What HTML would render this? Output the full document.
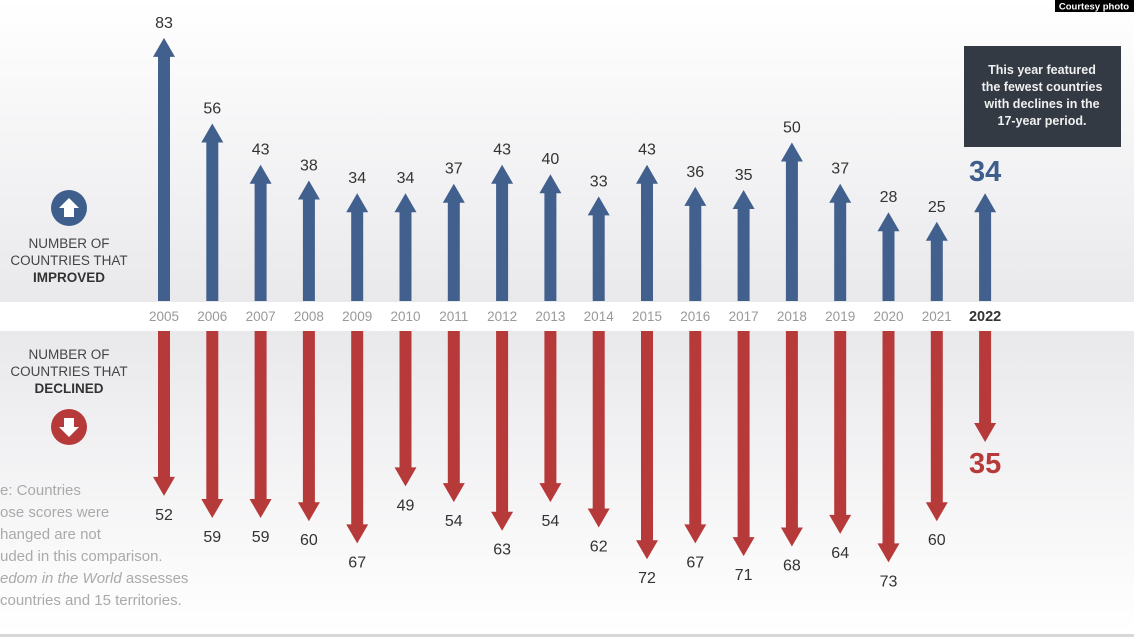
<!DOCTYPE html>
<html><head><meta charset="utf-8"><style>
body{margin:0;width:1134px;height:637px;overflow:hidden;font-family:"Liberation Sans",sans-serif}
</style></head><body>
<svg width="1134" height="637" viewBox="0 0 1134 637" xmlns="http://www.w3.org/2000/svg" font-family="Liberation Sans, sans-serif">
<defs>
<linearGradient id="gt" x1="0" y1="0" x2="0" y2="1"><stop offset="0" stop-color="#ffffff"/><stop offset="1" stop-color="#e9e9ec"/></linearGradient>
<linearGradient id="gb" x1="0" y1="0" x2="0" y2="1"><stop offset="0" stop-color="#e9e9ec"/><stop offset="1" stop-color="#ffffff"/></linearGradient>
</defs>
<rect width="1134" height="302" fill="url(#gt)"/>
<rect y="302" width="1134" height="29" fill="#fff"/>
<rect y="331" width="1134" height="303" fill="url(#gb)"/>
<rect y="634" width="1134" height="3" fill="#d8d8d8"/>
<rect x="1055" y="0" width="79" height="12" fill="#000"/>
<text x="1094" y="9.5" font-size="9.5" font-weight="bold" fill="#fff" text-anchor="middle">Courtesy  photo</text>
<rect x="964" y="46" width="157" height="101" fill="#333a44"/>
<g font-size="12.5" font-weight="bold" fill="#f0f0f0" text-anchor="middle">
<text x="1042" y="74">This year featured</text><text x="1042" y="91">the fewest countries</text><text x="1042" y="108">with declines in the</text><text x="1042" y="125">17-year period.</text></g>
<circle cx="69" cy="208" r="18" fill="#3e5e8c"/>
<path d="M69 198 L79 208 L74 208 L74 217 L64 217 L64 208 L59 208Z" fill="#fff"/>
<circle cx="69" cy="427" r="18" fill="#b73a3a"/>
<path d="M69 437 L79 427 L74 427 L74 418 L64 418 L64 427 L59 427Z" fill="#fff"/>
<g font-size="13.5" fill="#444" text-anchor="middle">
<text x="69" y="248">NUMBER OF</text><text x="69" y="265">COUNTRIES THAT</text><text x="69" y="282" font-weight="bold" fill="#333">IMPROVED</text>
<text x="69" y="359">NUMBER OF</text><text x="69" y="376">COUNTRIES THAT</text><text x="69" y="393" font-weight="bold" fill="#333">DECLINED</text></g>
<g font-size="15" fill="#aaa">
<text x="0" y="495">e: Countries</text><text x="0" y="517">ose scores were</text><text x="0" y="539">hanged are not</text><text x="0" y="561">uded in this comparison.</text><text x="0" y="583"><tspan font-style="italic">edom in the World</tspan> assesses</text><text x="0" y="605"> countries and 15 territories.</text></g>
<g id="bars"></g>
</svg>
<script>
var up=[83,56,43,38,34,34,37,43,40,33,43,36,35,50,37,28,25,34];
var dn=[52,59,59,60,67,49,54,63,54,62,72,67,71,68,64,73,60,35];
var g=document.getElementById('bars'),s='',k=3.17;
for(var i=0;i<18;i++){var x=164+i*48.3,last=i==17;
var t=301-up[i]*k;
s+='<rect x="'+(x-6)+'" y="'+(t+18)+'" width="12" height="'+(301-t-18)+'" fill="#41608e"/>';
s+='<path d="M'+x+' '+t+' L'+(x+11)+' '+(t+19)+' L'+(x-11)+' '+(t+19)+'Z" fill="#41608e"/>';
var b=331+dn[i]*k;
s+='<rect x="'+(x-6)+'" y="331" width="12" height="'+(b-18-331)+'" fill="#b73a3a"/>';
s+='<path d="M'+x+' '+b+' L'+(x+11)+' '+(b-19)+' L'+(x-11)+' '+(b-19)+'Z" fill="#b73a3a"/>';
if(last){s+='<text x="'+x+'" y="'+(t-12)+'" font-size="29" font-weight="bold" fill="#3e5e8c" text-anchor="middle">34</text>';
s+='<text x="'+x+'" y="'+(b+31)+'" font-size="29" font-weight="bold" fill="#b73a3a" text-anchor="middle">35</text>';
s+='<text x="'+x+'" y="321" font-size="14.5" font-weight="bold" fill="#333" text-anchor="middle">2022</text>';}
else{s+='<text x="'+x+'" y="'+(t-10)+'" font-size="16" fill="#333" text-anchor="middle">'+up[i]+'</text>';
s+='<text x="'+x+'" y="'+(b+24)+'" font-size="16" fill="#333" text-anchor="middle">'+dn[i]+'</text>';
s+='<text x="'+x+'" y="321" font-size="13.5" fill="#999" text-anchor="middle">'+(2005+i)+'</text>';}}
g.innerHTML=s;
</script>
</body></html>
